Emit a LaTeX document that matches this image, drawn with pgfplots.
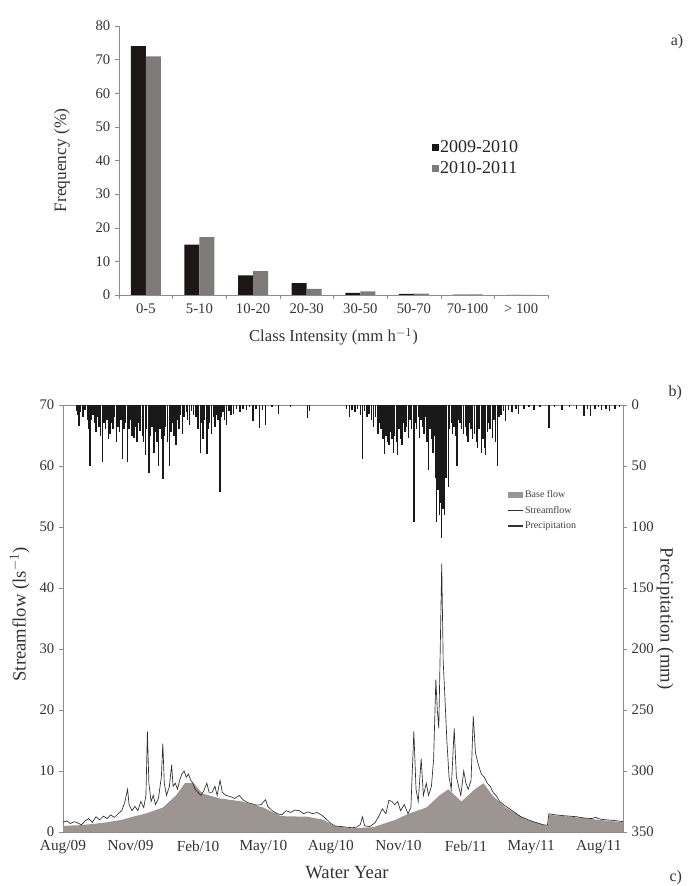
\documentclass[border=0pt]{standalone}
\usepackage{fontspec}
\setmainfont{Liberation Serif}
\usepackage{pgfplots}
\pgfplotsset{compat=1.18}
\usepackage{pgfplotstable}

\definecolor{barblack}{HTML}{1C1616}
\definecolor{bargray}{HTML}{7E7A7A}
\definecolor{axgray}{HTML}{8C8C8C}
\definecolor{basegray}{HTML}{9C9591}
\definecolor{flowline}{HTML}{302C2C}

\pgfplotstableread{
x y
0 1.0
20 1.1
40 1.3
60 1.6
80 2.0
92 2.4
112 3.0
136 4.0
154 6.0
166 8.0
178 8.0
190 6.3
214 5.5
244 5.0
273 4.0
297 2.6
333 2.5
355 2.0
369 1.0
393 0.6
423 0.8
453 2.0
471 3.0
495 4.0
513 6.0
525 7.0
543 5.0
561 7.0
573 8.0
585 6.0
603 4.0
632 2.0
659 1.0
661 1.0
662 2.8
692 2.5
730 2.0
763 1.6
}\basetab

\pgfplotstableread{
x y
0 1.6
5 1.8
10 1.4
15 1.7
20 1.5
25 1.2
30 1.8
35 2.2
40 1.6
45 2.5
50 2.0
55 2.6
60 2.2
65 2.8
70 2.4
75 3.0
80 3.5
84 4.8
88 7.0
90 4.5
94 3.5
98 4.2
102 3.5
106 5.0
110 4.0
113 6.0
115 16.5
117 8.0
120 5.0
123 6.0
126 4.5
130 5.5
134 9.0
136 14.5
138 8.0
141 6.0
145 7.5
148 11.0
150 7.5
153 8.0
156 7.0
159 8.5
162 9.5
165 10.0
168 9.0
171 9.5
174 8.5
177 8.0
180 7.0
184 6.5
188 6.0
192 6.8
196 8.0
199 6.5
203 6.5
207 7.5
210 6.0
214 8.5
217 6.5
222 6.0
228 5.8
234 5.5
240 6.0
246 5.2
252 4.8
258 4.6
264 4.4
270 4.5
276 5.3
279 4.2
285 3.5
292 3.0
298 2.8
304 3.5
310 3.2
316 3.6
322 3.5
328 3.0
334 3.3
340 3.0
346 3.2
352 2.8
358 2.2
364 1.5
370 1.0
378 0.9
386 0.8
394 0.7
400 0.8
405 1.2
408 2.5
411 1.0
418 0.9
425 1.5
430 2.5
435 3.8
440 3.0
444 5.2
448 5.0
452 4.5
456 5.0
460 3.5
465 4.5
470 3.0
474 4.0
478 16.5
481 7.0
484 5.0
488 12.0
491 6.0
495 8.0
498 6.0
502 7.5
505 12.0
508 25.0
510 20.0
512 17.0
514 30.0
516 44.0
518 28.0
520 23.0
523 15.0
526 9.0
529 7.0
533 17.0
536 9.0
539 7.5
542 6.0
546 10.0
549 8.0
552 7.0
556 8.5
559 19.0
562 13.0
566 11.0
570 9.5
574 9.0
578 8.0
582 7.5
586 6.5
590 6.0
595 5.0
600 4.5
606 4.0
612 3.5
618 3.0
624 2.5
630 2.2
638 1.8
646 1.5
654 1.2
660 1.1
662 3.0
666 2.9
672 2.8
680 2.7
690 2.6
700 2.5
710 2.3
720 2.2
726 2.4
732 2.1
740 2.0
750 1.9
763 1.7
}\flowtab

\pgfplotstableread{
x y
18 5
20 8
22 17
24 6
27 10
30 4
33 12
35 20
37 50
39 12
41 8
43 15
45 22
47 10
49 18
51 25
54 47
56 15
58 20
60 12
62 28
64 24
66 15
68 20
70 10
73 30
75 18
77 22
79 12
81 44
83 20
85 15
88 47
90 20
92 12
94 25
97 27
99 18
101 30
103 15
105 21
108 25
110 30
112 41
114 20
117 56
119 25
121 18
124 39
126 22
128 30
130 50
132 20
134 28
136 61
138 25
140 18
142 30
145 50
147 22
149 15
151 25
154 33
156 12
158 20
160 8
163 24
165 10
168 6
170 12
172 16
175 5
178 8
181 10
184 20
187 39
189 15
191 28
193 12
196 40
198 20
200 15
202 24
205 10
207 18
209 8
211 12
214 71
216 10
218 6
220 12
223 16
226 5
229 8
232 7
236 3
241 6
245 3
250 4
254 2
259 13
263 3
268 19
272 4
276 16
285 2
294 7
310 2
333 11
336 5
386 3
390 10
394 4
398 6
401 3
405 8
408 44
411 5
414 10
417 7
420 12
423 18
426 10
429 24
431 15
433 20
436 28
438 40
440 25
442 30
444 33
446 22
448 28
450 39
452 25
454 30
456 41
458 20
460 28
462 33
464 15
466 22
468 18
471 27
473 12
475 20
478 96
480 15
482 20
484 10
486 27
488 12
490 18
492 24
494 10
496 30
498 53
500 20
502 28
504 39
506 25
508 60
509 96
511 70
513 90
514 80
516 109
518 85
520 90
522 60
525 67
527 20
529 15
531 24
533 18
535 25
537 50
539 12
541 15
543 20
546 24
548 18
550 25
552 30
554 15
556 20
558 28
561 24
563 30
565 35
567 20
570 39
572 28
574 35
576 41
578 22
580 15
582 20
585 27
587 12
589 30
592 50
594 10
597 8
600 5
603 13
607 4
612 6
617 3
621 7
628 3
635 2
642 4
650 2
662 19
670 2
680 4
690 2
700 3
710 9
715 3
719 9
725 3
730 2
734 4
740 3
745 5
752 3
758 2
}\preciptab

\begin{document}
\begin{tikzpicture}
\useasboundingbox (0,0) rectangle (516.75pt,664.5pt);

% ---------- panel a ----------
\begin{axis}[
  at={(89.25pt,443.25pt)}, anchor=south west,
  scale only axis, width=321.75pt, height=201.75pt,
  ymin=0, ymax=80, xmin=-0.5, xmax=7.5,
  axis x line=bottom, axis y line=left,
  axis line style={axgray, -},
  ybar=0pt, bar width=11.25pt,
  xtick={0,...,7},
  xticklabels={0-5,5-10,10-20,20-30,30-50,50-70,70-100,{> 100}},
  major x tick style={draw=none},
  minor xtick={-0.5,0.5,...,7.5},
  minor x tick style={axgray},
  ytick={0,10,...,80},
  tick align=outside, tick style={axgray},
  major tick length=3pt, minor tick length=3pt,
  /pgf/number format/assume math mode=true,
  ticklabel style={font=\fontsize{11}{13}\selectfont, text=black!80},
  ylabel={Frequency (\%)},
  ylabel style={at={(axis description cs:-0.133,0.5)}, anchor=center, font=\fontsize{13}{15}\selectfont, text=black!80},
  xlabel={Class Intensity (mm h$^{-1}$)},
  xlabel style={at={(axis description cs:0.5,-0.156)}, anchor=center, font=\fontsize{12.5}{15}\selectfont, text=black!80},
  legend style={at={(axis description cs:0.72,0.59)}, anchor=north west, draw=none, fill=none,
    font=\fontsize{13.5}{16}\selectfont, row sep=3pt, nodes={inner sep=1pt, text=black!85}},
  legend cell align=left,
  legend image code/.code={\fill[#1] (0pt,-2.5pt) rectangle (5pt,2.5pt);},
]
\addplot[fill=barblack, draw=none] coordinates {(0,74) (1,15) (2,5.8) (3,3.5) (4,0.6) (5,0.3) (6,0.1) (7,0.05)};
\addplot[fill=bargray, draw=none] coordinates {(0,71) (1,17.2) (2,7.1) (3,1.8) (4,1.1) (5,0.4) (6,0.2) (7,0.05)};
\legend{2009-2010,2010-2011}
\end{axis}

% ---------- panel b/c : streamflow ----------
\begin{axis}[
  at={(47.25pt,40.5pt)}, anchor=south west,
  scale only axis, width=420pt, height=320.25pt,
  xmin=0, xmax=763, ymin=0, ymax=70,
  axis line style={axgray},
  xtick={0,92,184,273,365,457,549,638,730},
  xticklabels={Aug/09,Nov/09,Feb/10,May/10,Aug/10,Nov/10,Feb/11,May/11,Aug/11},
  major x tick style={draw=none},
  xtick pos=bottom, ytick pos=left,
  ytick={0,10,...,70},
  tick align=outside, tick style={axgray}, major tick length=3pt,
  /pgf/number format/assume math mode=true,
  xticklabel style={font=\fontsize{11.5}{13}\selectfont, text=black!80},
  yticklabel style={font=\fontsize{11}{13}\selectfont, text=black!80},
  ylabel={Streamflow (ls$^{-1}$)},
  ylabel style={at={(axis description cs:-0.077,0.51)}, anchor=center, font=\fontsize{14}{16}\selectfont, text=black!80},
  xlabel={Water Year},
  xlabel style={at={(axis description cs:0.507,-0.094)}, anchor=center, font=\fontsize{14}{16}\selectfont, text=black!80},
  legend style={at={(axis description cs:0.785,0.81)}, anchor=north west, draw=none, fill=none,
    font=\fontsize{7.5}{9}\selectfont, row sep=3pt, nodes={inner sep=1pt, text=black!75}},
  legend cell align=left,
]
\addplot[fill=basegray, draw=none, area legend,
  legend image code/.code={\fill[basegray] (0pt,-2pt) rectangle (11pt,2pt);}] table[x=x,y=y] {\basetab} \closedcycle;
\addlegendentry{Base flow}
\addplot[flowline, line width=0.5pt,
  legend image code/.code={\draw[flowline, line width=0.5pt] (0pt,0pt) -- (11pt,0pt);}] table[x=x,y=y] {\flowtab};
\addlegendentry{Streamflow}
\addlegendimage{legend image code/.code={\draw[black!80, line width=1.6pt] (0pt,0pt) -- (11pt,0pt);}}
\addlegendentry{Precipitation}
\end{axis}

% ---------- precipitation (reversed, right axis) ----------
\begin{axis}[
  at={(47.25pt,40.5pt)}, anchor=south west,
  scale only axis, width=420pt, height=320.25pt,
  xmin=0, xmax=763, ymin=0, ymax=350, y dir=reverse,
  axis y line*=right, hide x axis,
  axis line style={axgray, -},
  ytick={0,50,...,350},
  tick align=outside, tick style={axgray}, major tick length=3pt,
  /pgf/number format/assume math mode=true,
  yticklabel style={font=\fontsize{11}{13}\selectfont, text=black!80},
  ylabel={Precipitation (mm)},
  ylabel style={at={(axis description cs:1.075,0.5)}, anchor=center, rotate=180, font=\fontsize{14}{16}\selectfont, text=black!80},
]
\addplot[ycomb, black!90, line width=1.05pt] table[x=x,y=y] {\preciptab};
\end{axis}

\node[anchor=east, font=\fontsize{12}{14}\selectfont, text=black!80] at (516pt,633pt) {a)};
\node[anchor=east, font=\fontsize{12}{14}\selectfont, text=black!80] at (515pt,369.75pt) {b)};
\node[anchor=east, font=\fontsize{12}{14}\selectfont, text=black!80] at (515pt,6pt) {c)};
\end{tikzpicture}
\end{document}
